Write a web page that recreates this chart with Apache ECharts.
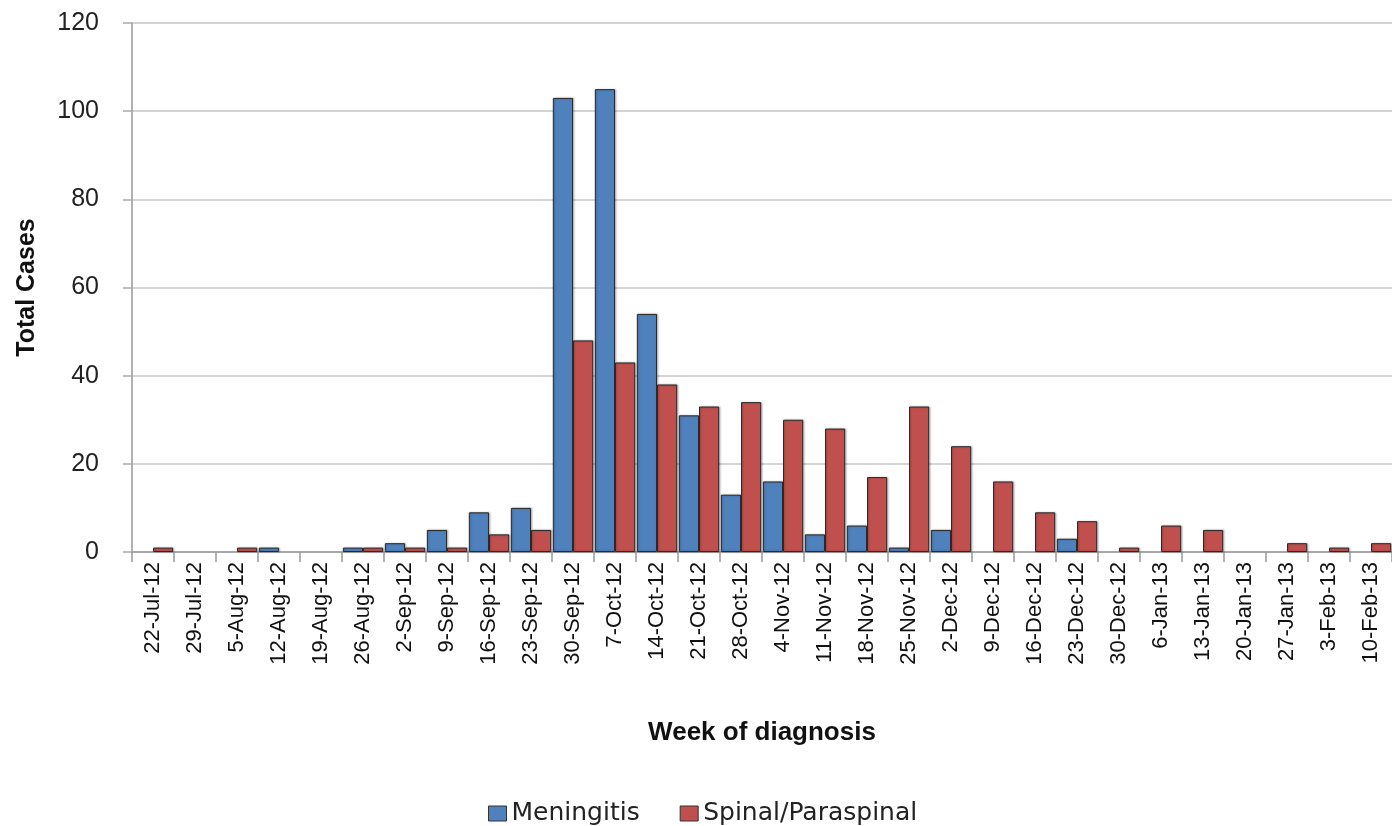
<!DOCTYPE html>
<html>
<head>
<meta charset="utf-8">
<script src="https://cdn.jsdelivr.net/npm/echarts@6/dist/echarts.min.js"></script>
<style>
html,body{margin:0;padding:0;background:#fff;}
#chart{width:1392px;height:826px;}
</style>
</head>
<body>
<div id="chart"></div>
<script>
const weeks = ['22-Jul-12','29-Jul-12','5-Aug-12','12-Aug-12','19-Aug-12','26-Aug-12','2-Sep-12','9-Sep-12','16-Sep-12','23-Sep-12','30-Sep-12','7-Oct-12','14-Oct-12','21-Oct-12','28-Oct-12','4-Nov-12','11-Nov-12','18-Nov-12','25-Nov-12','2-Dec-12','9-Dec-12','16-Dec-12','23-Dec-12','30-Dec-12','6-Jan-13','13-Jan-13','20-Jan-13','27-Jan-13','3-Feb-13','10-Feb-13'];
const meningitis = [0,0,0,1,0,1,2,5,9,10,103,105,54,31,13,16,4,6,1,5,0,0,3,0,0,0,0,0,0,0];
const spinal = [1,0,1,0,0,1,1,1,4,5,48,43,38,33,34,30,28,17,33,24,16,9,7,1,6,5,0,2,1,2];
const yTicks = {min:0, max:120, interval:20};

// zero counts draw no bar (as in the original)
const noZero = (arr) => arr.map(v => v === 0 ? '-' : v);

const chart = echarts.init(document.getElementById('chart'), null, {renderer:'canvas'});
const barStyle = (c) => ({color:c, borderColor:'#2a2a2a', borderWidth:1, shadowColor:'rgba(0,0,0,0.25)', shadowBlur:2, shadowOffsetX:1, shadowOffsetY:0});
chart.setOption({
  animation:false,
  backgroundColor:'#fff',
  grid:{left:132, top:23, width:1268, height:529, containLabel:false},
  legend:{
    left:483, top:796, itemWidth:18, itemHeight:15, itemGap:40,
    icon:'rect',
    textStyle:{fontFamily:'DejaVu Sans', fontSize:25, color:'#222'},
    data:[{name:'Meningitis', itemStyle:{borderColor:'#333',borderWidth:1}},{name:'Spinal/Paraspinal', itemStyle:{borderColor:'#333',borderWidth:1}}]
  },
  xAxis:{
    type:'category', data:weeks,
    name:'Week of diagnosis', nameLocation:'middle', nameGap:168,
    nameTextStyle:{fontFamily:'Liberation Sans', fontWeight:'bold', fontSize:26, color:'#111'},
    axisLine:{lineStyle:{color:'#999', width:1.5}},
    axisTick:{show:true, alignWithLabel:false, length:10, lineStyle:{color:'#999', width:1.5}},
    axisLabel:{rotate:90, interval:0, margin:10, fontFamily:'Liberation Sans', fontSize:22, color:'#111'},
    splitLine:{show:false}
  },
  yAxis:{
    type:'value', min:yTicks.min, max:yTicks.max, interval:yTicks.interval,
    name:'Total Cases', nameLocation:'middle', nameGap:92,
    nameTextStyle:{fontFamily:'Liberation Sans', fontWeight:'bold', fontSize:25, color:'#111'},
    axisLine:{show:true, lineStyle:{color:'#999', width:1.5}},
    axisTick:{show:true, inside:false, length:9, lineStyle:{color:'#aaa', width:1.5}},
    axisLabel:{margin:33, fontFamily:'Liberation Sans', fontSize:25, color:'#222'},
    splitLine:{show:true, lineStyle:{color:'#c6c6c6', width:1.5}}
  },
  series:[
    {name:'Meningitis', type:'bar', data:noZero(meningitis), barGap:'0%', barCategoryGap:'4%', itemStyle:barStyle('#4F81BD')},
    {name:'Spinal/Paraspinal', type:'bar', data:noZero(spinal), barGap:'0%', barCategoryGap:'4%', itemStyle:barStyle('#C0504D')}
  ]
});
</script>
</body>
</html>
